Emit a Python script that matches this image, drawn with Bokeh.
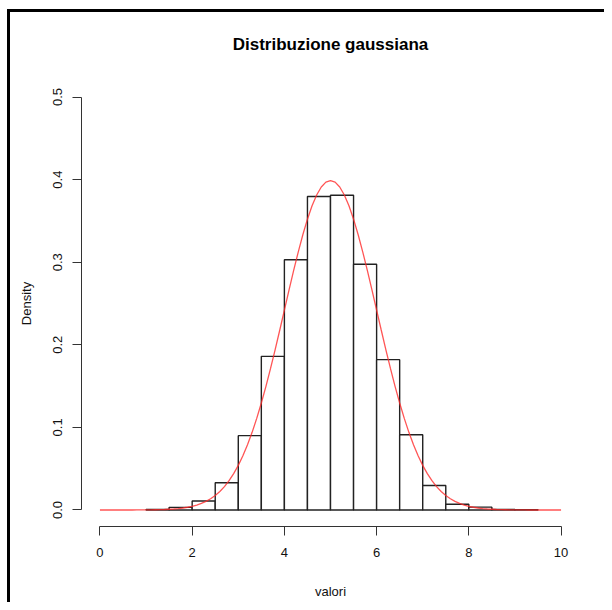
from bokeh.plotting import figure
from bokeh.embed import file_html
from bokeh.resources import INLINE
from bokeh.models import FixedTicker, PrintfTickFormatter

# Histogram bins (width 0.5) and densities
bin_left = [1.0, 1.5, 2.0, 2.5, 3.0, 3.5, 4.0, 4.5, 5.0, 5.5, 6.0, 6.5, 7.0, 7.5, 8.0, 8.5, 9.0]
bin_right = [1.5, 2.0, 2.5, 3.0, 3.5, 4.0, 4.5, 5.0, 5.5, 6.0, 6.5, 7.0, 7.5, 8.0, 8.5, 9.0, 9.5]
density = [0.0005, 0.0032, 0.0108, 0.0330, 0.0900, 0.1860, 0.3030, 0.3795, 0.3810, 0.2975,
           0.1820, 0.0910, 0.0297, 0.0070, 0.0034, 0.0006, 0.0003]

# Red density curve, read at steps of 0.1
curve_x = [0.0, 0.1, 0.2, 0.3, 0.4, 0.5, 0.6, 0.7, 0.8, 0.9,
           1.0, 1.1, 1.2, 1.3, 1.4, 1.5, 1.6, 1.7, 1.8, 1.9,
           2.0, 2.1, 2.2, 2.3, 2.4, 2.5, 2.6, 2.7, 2.8, 2.9,
           3.0, 3.1, 3.2, 3.3, 3.4, 3.5, 3.6, 3.7, 3.8, 3.9,
           4.0, 4.1, 4.2, 4.3, 4.4, 4.5, 4.6, 4.7, 4.8, 4.9,
           5.0, 5.1, 5.2, 5.3, 5.4, 5.5, 5.6, 5.7, 5.8, 5.9,
           6.0, 6.1, 6.2, 6.3, 6.4, 6.5, 6.6, 6.7, 6.8, 6.9,
           7.0, 7.1, 7.2, 7.3, 7.4, 7.5, 7.6, 7.7, 7.8, 7.9,
           8.0, 8.1, 8.2, 8.3, 8.4, 8.5, 8.6, 8.7, 8.8, 8.9,
           9.0, 9.1, 9.2, 9.3, 9.4, 9.5, 9.6, 9.7, 9.8, 9.9, 10.0]
curve_y = [0.0000, 0.0000, 0.0000, 0.0000, 0.0000, 0.0000, 0.0000, 0.0000, 0.0001, 0.0001,
           0.0001, 0.0002, 0.0003, 0.0004, 0.0006, 0.0009, 0.0012, 0.0017, 0.0024, 0.0033,
           0.0044, 0.0060, 0.0079, 0.0104, 0.0136, 0.0175, 0.0224, 0.0283, 0.0355, 0.0440,
           0.0540, 0.0656, 0.0790, 0.0940, 0.1109, 0.1295, 0.1497, 0.1714, 0.1942, 0.2179,
           0.2420, 0.2661, 0.2897, 0.3123, 0.3332, 0.3521, 0.3683, 0.3814, 0.3910, 0.3970,
           0.3989, 0.3970, 0.3910, 0.3814, 0.3683, 0.3521, 0.3332, 0.3123, 0.2897, 0.2661,
           0.2420, 0.2179, 0.1942, 0.1714, 0.1497, 0.1295, 0.1109, 0.0940, 0.0790, 0.0656,
           0.0540, 0.0440, 0.0355, 0.0283, 0.0224, 0.0175, 0.0136, 0.0104, 0.0079, 0.0060,
           0.0044, 0.0033, 0.0024, 0.0017, 0.0012, 0.0009, 0.0006, 0.0004, 0.0003, 0.0002,
           0.0001, 0.0001, 0.0001, 0.0000, 0.0000, 0.0000, 0.0000, 0.0000, 0.0000, 0.0000, 0.0000]

x_ticks = [0, 2, 4, 6, 8, 10]
y_ticks = [0.0, 0.1, 0.2, 0.3, 0.4, 0.5]

FONT = "Liberation Sans"

p = figure(width=604, height=602, x_range=(-0.4, 10.4), y_range=(-0.02, 0.52),
           output_backend="svg", toolbar_location=None,
           min_border_left=81, min_border_right=25, min_border_top=80, min_border_bottom=76,
           title="Distribuzione gaussiana", x_axis_label="valori", y_axis_label="Density")

# screenshot frame: thin black lines along the left and top edges
p.styles = {"box-shadow": "inset 7px 9px 0 0 white, inset 10px 12px 0 0 black",
            "background-color": "white"}

p.outline_line_color = None
p.xgrid.grid_line_color = None
p.ygrid.grid_line_color = None
p.background_fill_color = "white"
p.border_fill_color = None

p.title.align = "center"
p.title.text_font = FONT
p.title.text_font_size = "17px"
p.title.text_font_style = "bold"
p.title.text_color = "black"
p.title.standoff = 53

for ax in (p.xaxis[0], p.yaxis[0]):
    ax.axis_line_color = "#333333"
    ax.axis_line_width = 1
    ax.major_tick_line_color = "#333333"
    ax.major_tick_line_width = 1
    ax.major_tick_out = 9
    ax.major_tick_in = 0
    ax.minor_tick_line_color = None
    ax.major_label_text_font = FONT
    ax.major_label_text_font_size = "13px"
    ax.major_label_text_color = "#111111"
    ax.axis_label_text_font = FONT
    ax.axis_label_text_font_size = "13px"
    ax.axis_label_text_font_style = "normal"
    ax.axis_label_text_color = "#111111"

p.xaxis[0].ticker = FixedTicker(ticks=x_ticks)
p.xaxis[0].bounds = (x_ticks[0], x_ticks[-1])
p.xaxis[0].major_label_standoff = 12
p.xaxis[0].axis_label_standoff = 24

p.yaxis[0].ticker = FixedTicker(ticks=y_ticks)
p.yaxis[0].bounds = (y_ticks[0], y_ticks[-1])
p.yaxis[0].formatter = PrintfTickFormatter(format="%.1f")
p.yaxis[0].major_label_orientation = "vertical"
p.yaxis[0].major_label_standoff = 10
p.yaxis[0].axis_label_standoff = 17

p.quad(left=bin_left, right=bin_right, top=density, bottom=0,
       fill_color="white", line_color="#222222", line_width=1.4)

p.line(curve_x, curve_y, line_color="#ff2a2a", line_width=1.3, line_alpha=0.8)

open("out.html", "w").write(file_html(p, INLINE))
